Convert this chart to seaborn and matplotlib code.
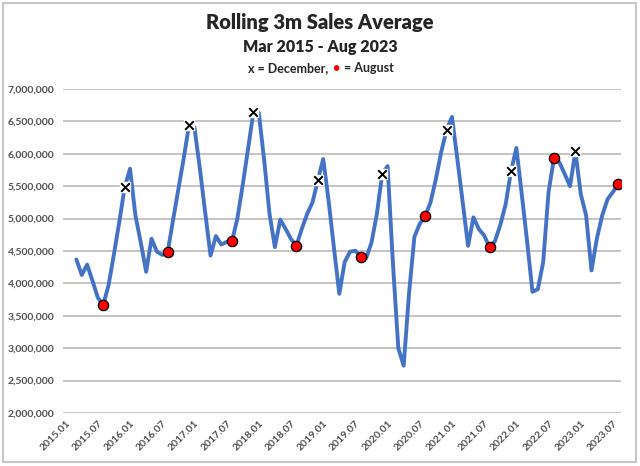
import matplotlib
matplotlib.use("Agg")
import matplotlib.pyplot as plt
import seaborn as sns
import pandas as pd
from matplotlib.patches import Rectangle
from matplotlib.ticker import FuncFormatter

# rolling 3-month sales average, Mar 2015 .. Aug 2023
first_month = "2015-03"
sales = [
    4370000, 4130000, 4290000, 4040000, 3780000, 3665000, 3975000, 4450000, 4950000, 5486000,
    5770000, 5050000, 4630000, 4180000, 4690000, 4490000, 4440000, 4480000, 4970000, 5450000,
    5930000, 6449000, 6410000, 5780000, 5100000, 4430000, 4730000, 4600000, 4640000, 4650000,
    5000000, 5520000, 6080000, 6645000, 6630000, 5900000, 5070000, 4560000, 4985000, 4840000,
    4686000, 4580000, 4840000, 5070000, 5250000, 5590000, 5920000, 5280000, 4550000, 3840000,
    4330000, 4490000, 4505000, 4410000, 4390000, 4630000, 5070000, 5690000, 5810000, 4300000,
    3000000, 2730000, 3850000, 4720000, 4920000, 5037000, 5250000, 5610000, 6030000, 6370000,
    6570000, 5920000, 5250000, 4580000, 5020000, 4840000, 4740000, 4557000, 4650000, 4900000,
    5220000, 5730000, 6090000, 5380000, 4650000, 3870000, 3910000, 4330000, 5410000, 5930000,
    5870000, 5690000, 5500000, 6040000, 5380000, 5050000, 4200000, 4690000, 5050000, 5300000,
    5410000, 5540000,
]
tick_years = list(range(2015, 2024))
tick_months = [1, 7]

months = pd.period_range(first_month, periods=len(sales), freq="M")
df = pd.DataFrame({
    "pos": [(p.year - 2015) * 12 + p.month - 1 for p in months],
    "month": [p.month for p in months],
    "sales": sales,
})
dec = df[df["month"] == 12]
aug = df[df["month"] == 8]

tick_labels = [f"{y}.{m:02d}" for y in tick_years for m in tick_months]
tick_pos = [(y - 2015) * 12 + m - 1 for y in tick_years for m in tick_months]

sns.set_style("white")
plt.rcParams["font.family"] = ["Lato", "DejaVu Sans"]

fig = plt.figure(figsize=(6.4, 4.66), dpi=100)
ax = fig.add_axes([0.0984, 0.1137, 0.8719, 0.6953])

sns.lineplot(data=df, x="pos", y="sales", ax=ax, color="#4472C4", linewidth=2.8, zorder=3)

# December: black x on a white box, August: red dot
ax.scatter(dec["pos"], dec["sales"], marker="s", s=60, color="white", zorder=4)
ax.scatter(dec["pos"], dec["sales"], marker="x", s=38, color="black", linewidths=1.4, zorder=5)
ax.scatter(aug["pos"], aug["sales"], marker="o", s=55, color="#FF0000",
           edgecolors="black", linewidths=0.9, zorder=5)

ax.set_xlim(-0.5, 103.5)
ax.set_ylim(2000000, 7000000)
ax.set_yticks(range(2000000, 7000001, 500000))
ax.yaxis.set_major_formatter(FuncFormatter(lambda v, _: f"{int(v):,}"))
ax.set_xticks(tick_pos)
ax.set_xticklabels(tick_labels, rotation=45, ha="right", rotation_mode="anchor")
ax.tick_params(axis="both", length=0, labelsize=7.5, labelcolor="#505050")
ax.tick_params(axis="x", pad=4)
ax.tick_params(axis="y", pad=6)
for lab in ax.get_xticklabels() + ax.get_yticklabels():
    lab.set_fontweight("bold")

ax.grid(axis="y", color="#BFBFBF", linewidth=1.3)
ax.set_axisbelow(True)
sns.despine(ax=ax, left=True, bottom=True)
ax.set_xlabel("")
ax.set_ylabel("")

fig.text(0.5, 1 - 22 / 466, "Rolling 3m Sales Average", ha="center", va="center",
         fontsize=14.5, fontweight="heavy")
fig.text(0.5, 1 - 47 / 466, "Mar 2015 - Aug 2023", ha="center", va="center",
         fontsize=11.5, fontweight="heavy")
fig.text(331 / 640, 1 - 68 / 466, "x = December, ", ha="right", va="center",
         fontsize=9, fontweight="bold")
fig.text(336 / 640, 1 - 68 / 466, "\u2022", ha="center", va="center",
         fontsize=9, fontweight="bold", color="#FF0000")
fig.text(341 / 640, 1 - 68 / 466, " = August", ha="left", va="center",
         fontsize=9, fontweight="bold")

fig.patches.append(Rectangle((3 / 640, 4 / 466), 633 / 640, 459 / 466, transform=fig.transFigure,
                             fill=False, edgecolor="#C8C8C8", linewidth=1.5))

fig.savefig("out.png", dpi=100)
plt.close(fig)
